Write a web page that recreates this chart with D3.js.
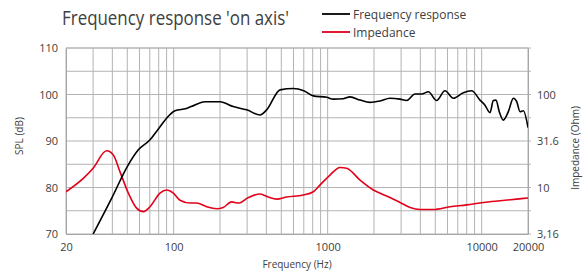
<!DOCTYPE html>
<html>
<head>
<meta charset="utf-8">
<script src="https://cdn.jsdelivr.net/npm/d3@7"></script>
<style>
  body { margin: 0; background: #fff; }
  text { font-family: "Open Sans", "Noto Sans", sans-serif; fill: #404040; }
</style>
</head>
<body>
<script>
// frequency response (SPL dB)
var splFreq = [30, 40, 50, 59, 70, 80, 90, 102, 121, 130, 160, 200, 244, 298, 364, 402, 491, 599, 700, 807, 986, 1089, 1262, 1397, 1623, 1884, 2188, 2541, 2951, 3260, 3690, 4080, 4510, 5100, 5780, 6550, 7600, 8610, 9750, 10510, 11330, 11910, 12390, 13020, 13830, 14900, 16070, 16900, 17750, 18660, 20000];
var splDb = [70, 78, 84.5, 88.1, 90.2, 92.7, 94.9, 96.5, 97.0, 97.4, 98.45, 98.45, 97.4, 96.7, 95.6, 96.7, 101.0, 101.3, 100.8, 99.7, 99.4, 99.0, 99.1, 99.5, 98.8, 98.3, 98.6, 99.2, 99.0, 98.7, 100.1, 100.1, 100.6, 98.7, 100.8, 99.2, 100.4, 100.8, 98.8, 97.7, 96.1, 98.7, 98.8, 96.3, 94.5, 96.3, 99.2, 98.45, 96.3, 96.5, 92.9];

// impedance (Ohm)
var impFreq = [20, 26, 30, 36.7, 40.6, 44.8, 50.8, 57.5, 63.6, 70.2, 81.5, 90, 99.5, 110, 128, 141, 164, 190, 210, 238, 263, 306, 364, 412, 467, 542, 695, 807, 891, 1036, 1203, 1330, 1623, 1980, 2416, 2951, 3430, 3980, 4850, 6230, 8000, 10260, 13150, 16900, 20000];
var impOhm = [9.0, 12.6, 16.1, 24.8, 22.4, 14.8, 8.7, 6.0, 5.5, 6.2, 8.7, 9.4, 8.7, 7.3, 6.8, 6.8, 6.2, 5.9, 6.1, 7.0, 6.8, 7.8, 8.5, 7.9, 7.5, 7.9, 8.3, 9.0, 10.6, 13.6, 16.4, 16.1, 12.0, 9.4, 8.1, 6.9, 6.1, 5.8, 5.8, 6.2, 6.5, 6.9, 7.2, 7.5, 7.7];

var xTicks = [20, 100, 1000, 10000, 20000];
var xGrid = [20, 30, 40, 50, 60, 70, 80, 90, 100, 200, 300, 400, 500, 600, 700, 800, 900, 1000, 2000, 3000, 4000, 5000, 6000, 7000, 8000, 9000, 10000, 20000];
var yTicks = [70, 80, 90, 100, 110];
var yGrid = [70, 75, 80, 85, 90, 95, 100, 105, 110];
var zTicks = [3.16, 10, 31.6, 100];
var zLabels = ["3,16", "10", "31.6", "100"];

var W = 586, H = 276;
var m = { left: 66, right: 58, top: 48, bottom: 42 };

var svg = d3.select("body").append("svg")
  .attr("width", W)
  .attr("height", H);

var x = d3.scaleLog().domain([20, 20000]).range([m.left, W - m.right]);
var y = d3.scaleLinear().domain([70, 110]).range([H - m.bottom, m.top]);
// impedance axis: 20 dB per decade, 3.16 Ohm sits on 70 dB
var yz = d3.scaleLog().domain([3.16, 316]).range([H - m.bottom, m.top]);

// grid
svg.append("g").selectAll("line").data(xGrid).enter().append("line")
  .attr("x1", function(d) { return x(d) }).attr("x2", function(d) { return x(d) })
  .attr("y1", y(70)).attr("y2", y(110))
  .attr("stroke", "#b3b3b3").attr("stroke-width", 1);

svg.append("g").selectAll("line").data(yGrid).enter().append("line")
  .attr("x1", x(20)).attr("x2", x(20000) + 3)
  .attr("y1", function(d) { return y(d) }).attr("y2", function(d) { return y(d) })
  .attr("stroke", "#b3b3b3").attr("stroke-width", 1);

// axes
var xAxis = svg.append("g")
  .attr("transform", "translate(0," + (H - m.bottom) + ")")
  .call(d3.axisBottom(x).tickValues(xTicks).tickFormat(d3.format("d")).tickSize(0).tickPadding(9));
xAxis.select(".domain").attr("stroke", "#a6a6a6");

var yAxis = svg.append("g")
  .attr("transform", "translate(" + m.left + ",0)")
  .call(d3.axisLeft(y).tickValues(yTicks).tickSize(0).tickPadding(8));
yAxis.select(".domain").attr("stroke", "#a6a6a6");

var zAxis = svg.append("g")
  .attr("transform", "translate(" + (W - m.right) + ",0)")
  .call(d3.axisRight(yz).tickValues(zTicks).tickFormat(function(d, i) { return zLabels[i] }).tickSize(0).tickPadding(9));
zAxis.select(".domain").attr("stroke", "#a6a6a6");

svg.selectAll(".tick text").style("font-size", "11px").attr("fill", "#404040")
  .style("font-family", "'Open Sans', 'Noto Sans', sans-serif");

// top border
svg.append("line").attr("x1", x(20)).attr("x2", x(20000))
  .attr("y1", y(110)).attr("y2", y(110)).attr("stroke", "#b3b3b3");

// lines
var clip = svg.append("clipPath").attr("id", "plot").append("rect")
  .attr("x", x(20)).attr("y", y(110)).attr("width", x(20000) - x(20)).attr("height", y(70) - y(110));

var splLine = d3.line()
  .x(function(d, i) { return x(splFreq[i]) })
  .y(function(d) { return y(d) })
  .curve(d3.curveMonotoneX);

var impLine = d3.line()
  .x(function(d, i) { return x(impFreq[i]) })
  .y(function(d) { return yz(d) })
  .curve(d3.curveMonotoneX);

svg.append("path").attr("d", impLine(impOhm))
  .attr("fill", "none").attr("stroke", "#e2001a").attr("stroke-width", 1.6)
  .attr("clip-path", "url(#plot)");

svg.append("path").attr("d", splLine(splDb))
  .attr("fill", "none").attr("stroke", "#000").attr("stroke-width", 1.6)
  .attr("clip-path", "url(#plot)");

// titles
svg.append("text").attr("x", 62).attr("y", 25)
  .style("font-size", "20px").attr("fill", "#262626")
  .attr("textLength", 227).attr("lengthAdjust", "spacingAndGlyphs")
  .text("Frequency response 'on axis'");

svg.append("text").attr("x", (x(20) + x(20000)) / 2).attr("y", 268)
  .attr("text-anchor", "middle").style("font-size", "10px")
  .text("Frequency (Hz)");

svg.append("text").attr("transform", "translate(23,136) rotate(-90)")
  .attr("text-anchor", "middle").style("font-size", "10px")
  .text("SPL (dB)");

svg.append("text").attr("transform", "translate(579,148) rotate(-90)")
  .attr("text-anchor", "middle").style("font-size", "10px")
  .text("Impedance (Ohm)");

// legend
var legend = [{ name: "Frequency response", color: "#000" }, { name: "Impedance", color: "#e2001a" }];
var lg = svg.append("g").selectAll("g").data(legend).enter().append("g")
  .attr("transform", function(d, i) { return "translate(322," + (14 + i * 18) + ")" });
lg.append("line").attr("x1", 0).attr("x2", 28).attr("y1", 0).attr("y2", 0)
  .attr("stroke", function(d) { return d.color }).attr("stroke-width", 1.8);
lg.append("text").attr("x", 31).attr("y", 4.5).style("font-size", "12px").attr("fill", "#262626")
  .text(function(d) { return d.name });
</script>
</body>
</html>
